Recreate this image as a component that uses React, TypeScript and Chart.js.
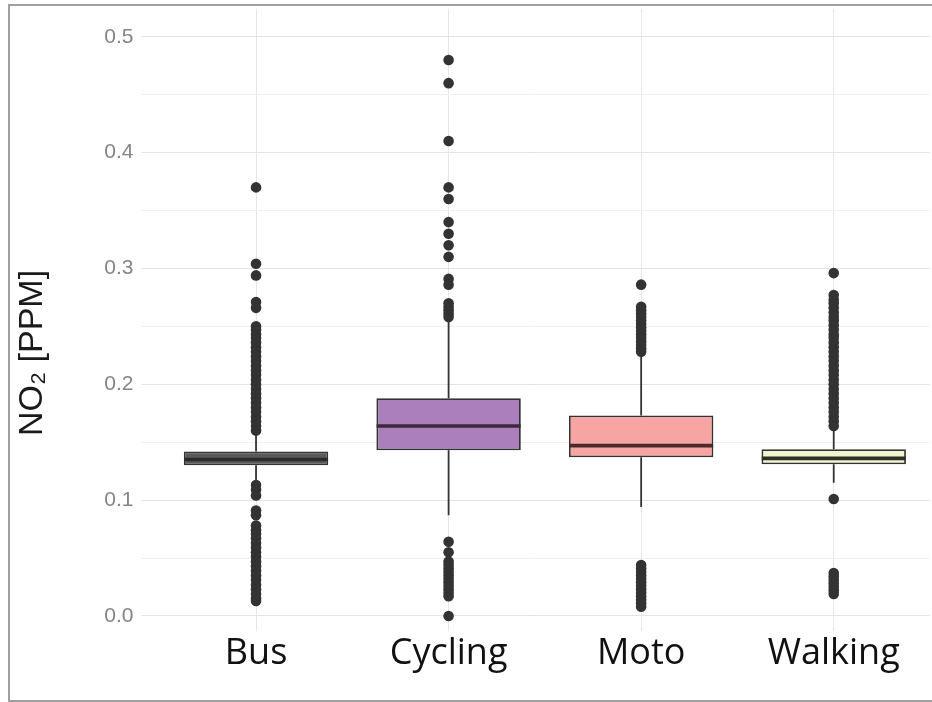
import React, { useEffect, useRef } from 'react';
import { Chart, registerables } from 'chart.js';

Chart.register(...registerables);

const categories = ['Bus', 'Cycling', 'Moto', 'Walking'];
const q1 = [0.130, 0.143, 0.137, 0.131];
const medians = [0.135, 0.164, 0.147, 0.136];
const q3 = [0.142, 0.188, 0.173, 0.144];
const whiskerLow = [0.116, 0.087, 0.094, 0.115];
const whiskerHigh = [0.158, 0.255, 0.226, 0.163];

const busOutliers = [
  0.370, 0.304, 0.294, 0.271, 0.266, 0.250, 0.247, 0.243, 0.240, 0.236, 0.232,
  0.228, 0.224, 0.220, 0.216, 0.212, 0.208, 0.204, 0.200, 0.196, 0.192, 0.188,
  0.184, 0.180, 0.176, 0.172, 0.168, 0.164, 0.160, 0.113, 0.109, 0.104, 0.091,
  0.087, 0.078, 0.074, 0.071, 0.067, 0.063, 0.059, 0.055, 0.051, 0.047, 0.043,
  0.039, 0.035, 0.031, 0.027, 0.023, 0.019, 0.015, 0.013,
];
const cyclingOutliers = [
  0.480, 0.460, 0.410, 0.370, 0.360, 0.340, 0.330, 0.320, 0.310, 0.291, 0.286,
  0.270, 0.267, 0.264, 0.261, 0.258, 0.064, 0.055, 0.047, 0.044, 0.041, 0.038,
  0.035, 0.032, 0.029, 0.026, 0.023, 0.020, 0.017, 0.000,
];
const motoOutliers = [
  0.286, 0.267, 0.264, 0.261, 0.258, 0.255, 0.252, 0.249, 0.246, 0.243, 0.240,
  0.237, 0.234, 0.231, 0.228, 0.044, 0.041, 0.038, 0.035, 0.032, 0.029, 0.026,
  0.023, 0.020, 0.017, 0.014, 0.011, 0.008,
];
const walkingOutliers = [
  0.296, 0.277, 0.273, 0.270, 0.266, 0.262, 0.258, 0.255, 0.251, 0.247, 0.243,
  0.240, 0.236, 0.232, 0.228, 0.224, 0.220, 0.216, 0.212, 0.208, 0.204, 0.200,
  0.196, 0.192, 0.188, 0.184, 0.180, 0.176, 0.172, 0.168, 0.164, 0.101, 0.037,
  0.034, 0.031, 0.028, 0.025, 0.022, 0.019,
];
const outlierLists = [busOutliers, cyclingOutliers, motoOutliers, walkingOutliers];

const boxColors = [
  'rgba(80,80,80,0.95)',
  'rgba(166,120,184,0.95)',
  'rgba(245,160,158,0.95)',
  'rgba(242,242,204,0.95)',
];
const medianColors = ['#2a2a2a', '#3a2a3c', '#4a2a2a', '#2e3026'];

const yMajorTicks = [0, 0.1, 0.2, 0.3, 0.4, 0.5];
const yMinorTicks = [0.05, 0.15, 0.25, 0.35, 0.45];
const yTitle = 'NO\u2082 [PPM]';

const yTitlePlugin = {
  id: 'yTitlePlugin',
  afterDraw(chart: any) {
    const ctx = chart.ctx;
    ctx.save();
    ctx.translate(33, 353);
    ctx.rotate(-Math.PI / 2);
    ctx.font = '34px "Liberation Sans", Arial, sans-serif';
    ctx.fillStyle = '#1a1a1a';
    ctx.textAlign = 'center';
    ctx.textBaseline = 'middle';
    ctx.fillText(yTitle, 0, 0);
    ctx.restore();
  },
};

export default function App() {
  const canvasRef = useRef<HTMLCanvasElement | null>(null);

  useEffect(() => {
    if (!canvasRef.current) return;

    const outlierData = categories.flatMap((_, i) =>
      outlierLists[i].map((v) => ({ x: i, y: v }))
    );
    const medianData = medians.map((m, i) => ({ x: i, y: m }));
    const boxData = categories.map((_, i) => ({ x: i, y: [q1[i], q3[i]] }));
    const whiskerData: any[] = [];
    categories.forEach((_, i) => {
      whiskerData.push({ x: i, y: whiskerLow[i] });
      whiskerData.push({ x: i, y: q1[i] });
      whiskerData.push({ x: i, y: null });
      whiskerData.push({ x: i, y: q3[i] });
      whiskerData.push({ x: i, y: whiskerHigh[i] });
      whiskerData.push({ x: i, y: null });
    });

    const allYTicks = [...yMajorTicks, ...yMinorTicks].sort((a, b) => a - b);

    const chart = new Chart(canvasRef.current, {
      type: 'bar',
      data: {
        datasets: [
          {
            type: 'scatter',
            data: outlierData,
            pointRadius: 5.3,
            pointBackgroundColor: '#333333',
            pointBorderWidth: 0,
            order: 0,
          } as any,
          {
            type: 'scatter',
            data: medianData,
            pointStyle: 'line',
            pointRadius: 72,
            pointBorderWidth: 3.6,
            pointBorderColor: medianColors,
            order: 1,
          } as any,
          {
            type: 'bar',
            data: boxData,
            backgroundColor: boxColors,
            borderColor: '#333333',
            borderWidth: 1.8,
            borderSkipped: false,
            barPercentage: 0.75,
            categoryPercentage: 1,
            order: 2,
          } as any,
          {
            type: 'line',
            data: whiskerData,
            borderColor: '#333333',
            borderWidth: 1.8,
            pointRadius: 0,
            spanGaps: false,
            order: 3,
          } as any,
        ],
      },
      options: {
        responsive: false,
        animation: false,
        layout: { autoPadding: false, padding: { top: 9, right: 2, left: 0, bottom: 0 } },
        plugins: {
          legend: { display: false },
          tooltip: { enabled: false },
        },
        scales: {
          x: {
            type: 'linear',
            min: -0.6,
            max: 3.5,
            offset: false,
            afterBuildTicks: (scale: any) => {
              scale.ticks = categories.map((_, i) => ({ value: i }));
            },
            afterFit: (scale: any) => {
              scale.height = 71;
              scale.paddingLeft = 0;
              scale.paddingRight = 0;
            },
            border: { display: false },
            grid: { offset: false, color: '#e6e6e6', lineWidth: 1, drawTicks: false },
            ticks: {
              padding: 1,
              color: '#111111',
              font: { family: '"Open Sans", sans-serif', size: 36 },
              callback: (v: any) => categories[v] ?? '',
              maxRotation: 0,
              autoSkip: false,
            },
          },
          y: {
            type: 'linear',
            min: -0.013,
            max: 0.524,
            afterBuildTicks: (scale: any) => {
              scale.ticks = allYTicks.map((v) => ({ value: v }));
            },
            afterFit: (scale: any) => {
              scale.width = 140.5;
              scale.paddingTop = 0;
              scale.paddingBottom = 0;
            },
            border: { display: false },
            grid: {
              drawTicks: false,
              color: (ctx: any) =>
                yMajorTicks.some((t) => Math.abs(t - ctx.tick?.value) < 1e-9)
                  ? '#e4e4e4'
                  : '#f0f0f0',
              lineWidth: 1,
            },
            ticks: {
              padding: 7,
              color: '#858585',
              font: { family: '"Liberation Sans", Arial, sans-serif', size: 21 },
              autoSkip: false,
              callback: (v: any) =>
                yMajorTicks.some((t) => Math.abs(t - v) < 1e-9) ? Number(v).toFixed(1) : '',
            },
          },
        },
      },
      plugins: [yTitlePlugin],
    } as any);

    return () => chart.destroy();
  }, []);

  return (
    <div
      style={{
        position: 'fixed',
        left: 0,
        top: 0,
        width: 932,
        height: 702,
        overflow: 'hidden',
        background: '#ffffff',
      }}
    >
      <div
        style={{
          position: 'absolute',
          left: 8,
          top: 4,
          width: 1000,
          height: 694,
          border: '2px solid #a0a0a0',
        }}
      />
      <canvas
        ref={canvasRef}
        width={932}
        height={702}
        style={{ position: 'absolute', left: 0, top: 0, width: 932, height: 702 }}
      />
    </div>
  );
}
